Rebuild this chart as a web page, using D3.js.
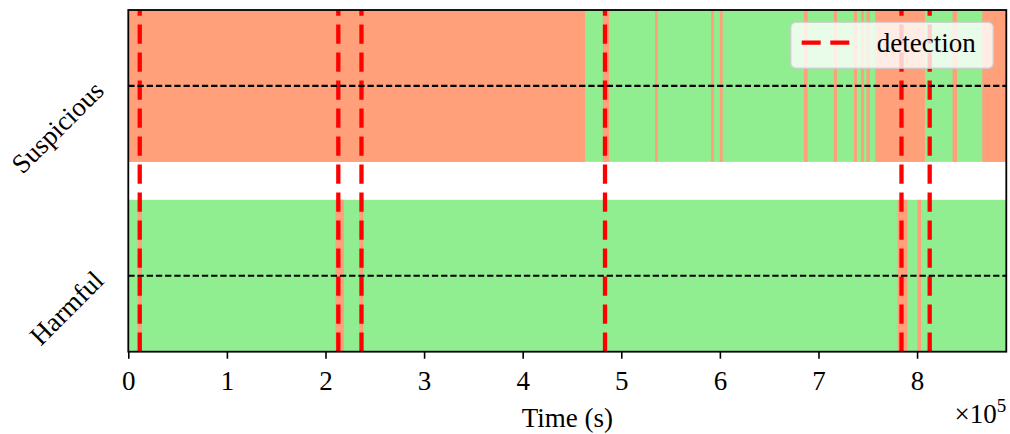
<!DOCTYPE html>
<html>
<head>
<meta charset="utf-8">
<script src="https://cdn.jsdelivr.net/npm/d3@7"></script>
<style>
  html, body { margin: 0; padding: 0; background: #fff; }
  svg { display: block; }
  text { font-family: "Liberation Serif", "Times New Roman", serif; fill: #000; }
</style>
</head>
<body>
<svg id="chart" width="1010" height="434"></svg>
<script>
// ---------- data ----------
const categories = ["Harmful", "Suspicious"];          // y = 0, y = 1
const xTickValues = [0, 100000, 200000, 300000, 400000, 500000, 600000, 700000, 800000];
const xTickLabels = ["0", "1", "2", "3", "4", "5", "6", "7", "8"];
const timeMax = 890500;

// orange (flagged) intervals in the "Suspicious" row, seconds
const suspiciousStart = [0, 481300, 534200, 591000, 600000, 685300, 715700, 736000, 743100, 748700, 757600, 836000, 866100];
const suspiciousEnd   = [463200, 487600, 536900, 594000, 602800, 689000, 718700, 739000, 746100, 752200, 808000, 840500, 890500];

// orange (flagged) intervals in the "Harmful" row, seconds
const harmfulStart = [9500, 210300, 234300, 780300, 800400];
const harmfulEnd   = [13800, 218800, 238500, 790200, 804000];

// detection times, seconds
const detections = [11600, 213000, 236500, 483500, 784200, 812800];

const legendLabels = ["detection"];

// ---------- layout ----------
const W = 1010, H = 434;
const margin = { left: 128.3, right: 3.7, top: 10, bottom: 82.3 };
const x0 = margin.left, x1 = W - margin.right;
const y0 = H - margin.bottom, y1 = margin.top;

const colOK = "#90EE90", colBad = "#FFA07A";
const halfBand = 0.4;

const svg = d3.select("#chart");
const x = d3.scaleLinear().domain([0, timeMax]).range([x0, x1]);
const y = d3.scaleLinear().domain([-0.4, 1.4]).range([y0, y1]);

const plot = svg.append("g");

// base green rows
plot.selectAll("rect.base").data(categories).join("rect")
  .attr("class", "base")
  .attr("x", x(0)).attr("width", x(timeMax) - x(0))
  .attr("y", (d, i) => y(i + halfBand))
  .attr("height", (d, i) => y(i - halfBand) - y(i + halfBand))
  .attr("fill", colOK);

// orange intervals
const rows = [
  { yv: 1, starts: suspiciousStart, ends: suspiciousEnd },
  { yv: 0, starts: harmfulStart, ends: harmfulEnd }
];
rows.forEach(r => {
  const iv = r.starts.map((s, i) => [s, r.ends[i]]);
  plot.selectAll(null).data(iv).join("rect")
    .attr("x", d => x(d[0]))
    .attr("width", d => Math.max(0.5, x(d[1]) - x(d[0])))
    .attr("y", y(r.yv + halfBand))
    .attr("height", y(r.yv - halfBand) - y(r.yv + halfBand))
    .attr("fill", colBad);
});

// red detection lines (drawn bottom -> top)
plot.selectAll("line.det").data(detections).join("line")
  .attr("class", "det")
  .attr("x1", d => x(d)).attr("x2", d => x(d))
  .attr("y1", y0).attr("y2", y1)
  .attr("stroke", "#ff0000").attr("stroke-width", 4.3)
  .attr("stroke-dasharray", "19.3 8.7");

// black dashed row centre lines
plot.selectAll("line.mid").data(categories).join("line")
  .attr("class", "mid")
  .attr("x1", x0).attr("x2", x1)
  .attr("y1", (d, i) => y(i)).attr("y2", (d, i) => y(i))
  .attr("stroke", "#000").attr("stroke-width", 2.2)
  .attr("stroke-dasharray", "6.3 2.9");

// x axis
const xAxis = d3.axisBottom(x)
  .tickValues(xTickValues)
  .tickFormat((d, i) => xTickLabels[i])
  .tickSize(7).tickSizeOuter(0).tickPadding(12);
const gx = svg.append("g").attr("transform", `translate(0,${y0})`).call(xAxis);
gx.select(".domain").remove();
gx.selectAll(".tick line").attr("stroke", "#000").attr("stroke-width", 1.6);
gx.selectAll(".tick text").attr("font-size", 27).attr("font-family", "Liberation Serif");

// y tick labels (rotated 45°)
svg.selectAll("text.ylab").data(categories).join("text")
  .attr("class", "ylab")
  .attr("transform", (d, i) => `translate(99,${y(i)}) rotate(-45)`)
  .attr("text-anchor", "end")
  .attr("dominant-baseline", "central")
  .attr("font-size", 27)
  .text(d => d);

// frame
svg.append("rect")
  .attr("x", x0).attr("y", y1).attr("width", x1 - x0).attr("height", y0 - y1)
  .attr("fill", "none").attr("stroke", "#000").attr("stroke-width", 1.8);

// axis label and offset text
svg.append("text")
  .attr("x", (x0 + x1) / 2).attr("y", 427)
  .attr("text-anchor", "middle").attr("font-size", 27)
  .text("Time (s)");

const off = svg.append("text")
  .attr("x", x1).attr("y", 423)
  .attr("text-anchor", "end").attr("font-size", 27);
off.append("tspan").text("×10");
off.append("tspan").attr("font-size", 19).attr("dy", -11).text("5");

// legend
const lg = svg.append("g");
lg.append("rect")
  .attr("x", 790.7).attr("y", 22.3).attr("width", 202.6).attr("height", 46)
  .attr("rx", 5).attr("ry", 5)
  .attr("fill", "#fff").attr("fill-opacity", 0.8)
  .attr("stroke", "#cccccc").attr("stroke-opacity", 0.8).attr("stroke-width", 1.6);
lg.append("line")
  .attr("x1", 801.7).attr("x2", 849.3).attr("y1", 42.7).attr("y2", 42.7)
  .attr("stroke", "#ff0000").attr("stroke-width", 4.3)
  .attr("stroke-dasharray", "19 9.6");
lg.selectAll(null).data(legendLabels).join("text")
  .attr("x", 876.7).attr("y", 51.7).attr("font-size", 27)
  .text(d => d);
</script>
</body>
</html>
